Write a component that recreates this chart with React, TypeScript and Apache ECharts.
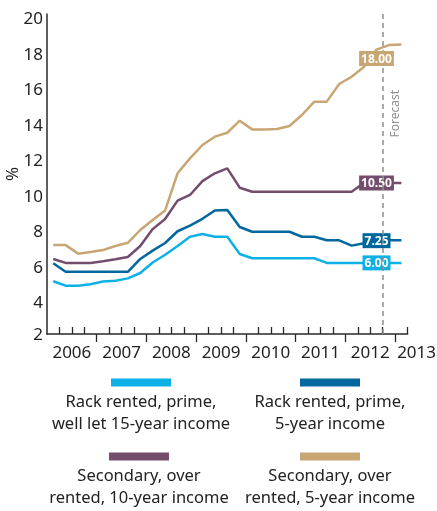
import React, { useEffect, useRef } from "react";
import * as echarts from "echarts";

const quarters = [
  "2006 Q1", "2006 Q2", "2006 Q3", "2006 Q4",
  "2007 Q1", "2007 Q2", "2007 Q3", "2007 Q4",
  "2008 Q1", "2008 Q2", "2008 Q3", "2008 Q4",
  "2009 Q1", "2009 Q2", "2009 Q3", "2009 Q4",
  "2010 Q1", "2010 Q2", "2010 Q3", "2010 Q4",
  "2011 Q1", "2011 Q2", "2011 Q3", "2011 Q4",
  "2012 Q1", "2012 Q2", "2012 Q3", "2012 Q4",
  "2013 Q1",
];
const years = ["2006", "2007", "2008", "2009", "2010", "2011", "2012", "2013"];

const primeWellLet = [4.97, 4.72, 4.72, 4.8, 4.95, 5.0, 5.13, 5.43, 6.02, 6.46, 6.95, 7.47, 7.62, 7.47, 7.47, 6.5, 6.26, 6.26, 6.26, 6.26, 6.26, 6.26, 6.0, 6.0, 6.0, 6.0, 6.0, 6.0, 6.0];
const prime5yr = [5.98, 5.5, 5.5, 5.5, 5.5, 5.5, 5.5, 6.22, 6.69, 7.12, 7.78, 8.1, 8.48, 8.95, 8.97, 8.02, 7.75, 7.75, 7.75, 7.75, 7.47, 7.47, 7.27, 7.27, 6.97, 7.1, 7.25, 7.27, 7.27];
const secondary10yr = [6.22, 6.0, 6.0, 6.0, 6.09, 6.2, 6.33, 6.95, 7.9, 8.47, 9.5, 9.82, 10.6, 11.04, 11.32, 10.23, 10.0, 10.0, 10.0, 10.0, 10.0, 10.0, 10.0, 10.0, 10.0, 10.5, 10.5, 10.5, 10.5];
const secondary5yr = [7.0, 7.0, 6.52, 6.61, 6.72, 6.95, 7.13, 7.85, 8.41, 8.95, 11.04, 11.88, 12.63, 13.1, 13.32, 14.0, 13.51, 13.51, 13.53, 13.7, 14.32, 15.07, 15.07, 16.06, 16.47, 17.03, 18.0, 18.25, 18.29];

const seriesNames = [
  "Rack rented, prime, well let 15-year income",
  "Rack rented, prime, 5-year income",
  "Secondary, over rented, 10-year income",
  "Secondary, over rented, 5-year income",
];
const legendLines = [
  ["Rack rented, prime,", "well let 15-year income"],
  ["Rack rented, prime,", "5-year income"],
  ["Secondary, over", "rented, 10-year income"],
  ["Secondary, over", "rented, 5-year income"],
];
const endLabels = ["6.00", "7.25", "10.50", "18.00"];
const labelQuarter = "2012 Q3";
const forecastQuarter = "2012 Q4";

const colors = ["#0db1e8", "#00689f", "#744c6c", "#c8a674"];
const FONT = "Noto Sans";

export default function App() {
  const ref = useRef<HTMLDivElement>(null);
  useEffect(() => {
    if (!ref.current) return;
    const chart = echarts.init(ref.current, null, { renderer: "svg" });
    const allData = [primeWellLet, prime5yr, secondary10yr, secondary5yr];
    const labelIdx = quarters.indexOf(labelQuarter);
    const forecastIdx = quarters.indexOf(forecastQuarter);
    const n = quarters.length;
    const minorTicks: number[] = [];
    const majorTicks: number[] = [];
    for (let i = 1; i <= n; i++) {
      if (i % 4 === 0 && i < n) majorTicks.push(i);
      else minorTicks.push(i);
    }
    const yearLabelPos = years.map((_, k) => Math.min(4 * k + 2, n));
    const labelOffsets = [[0, 0], [0, 0], [0, 0], [0, 9]];

    const series: any[] = allData.map((d, si) => ({
      type: "line",
      name: seriesNames[si],
      xAxisIndex: 0,
      yAxisIndex: 0,
      symbol: "circle",
      symbolSize: 0,
      showSymbol: true,
      silent: true,
      z: 2 + si,
      lineStyle: { color: colors[si], width: 2.5 },
      itemStyle: { color: colors[si] },
      emphasis: { disabled: true },
      data: d.map((v, i) => {
        const item: any = { value: [i + 0.5, v] };
        if (i === labelIdx) {
          item.label = {
            show: true,
            position: "inside",
            offset: labelOffsets[si],
            formatter: endLabels[si],
            backgroundColor: colors[si],
            color: "#fff",
            fontFamily: FONT,
            fontWeight: "bold",
            fontSize: 12,
            lineHeight: 13,
            padding: [1, 2, 1, 2],
          };
        }
        return item;
      }),
    }));
    series[0].markLine = {
      silent: true,
      symbol: ["none", "none"],
      lineStyle: { type: [5, 4], color: "#8f8f8f", width: 1.5 },
      label: {
        show: true,
        formatter: "Forecast",
        position: "insideEndBottom",
        distance: [76, 6],
        color: "#8f8f8f",
        fontFamily: FONT,
        fontSize: 12,
      },
      data: [{ xAxis: forecastIdx }],
    };

    const legendLeft = [36, 225, 34, 225];
    const legendTop = [374, 374, 448, 448];

    chart.setOption({
      animation: false,
      grid: { left: 47, right: 29.4, top: 14, bottom: 177, containLabel: false, outerBoundsMode: "none" },
      xAxis: [
        {
          type: "value",
          min: 0,
          max: n,
          position: "bottom",
          axisLine: { show: true, lineStyle: { color: "#2a2a2a", width: 1.5 } },
          axisTick: { show: true, inside: true, length: 7, customValues: minorTicks, lineStyle: { color: "#2a2a2a", width: 1.3 } },
          axisLabel: { show: false },
          splitLine: { show: false },
        },
        {
          type: "value",
          min: 0,
          max: n,
          position: "bottom",
          axisLine: { show: false },
          axisTick: { show: true, inside: false, length: 8, customValues: majorTicks, lineStyle: { color: "#2a2a2a", width: 1.3 } },
          axisLabel: {
            show: true,
            customValues: yearLabelPos,
            margin: 9,
            color: "#222",
            fontFamily: FONT,
            fontSize: 17,
            formatter: (v: number) => {
              const k = yearLabelPos.indexOf(v);
              const y = years[k] ?? "";
              return k === years.length - 1 ? `{e|${y}}` : y;
            },
            rich: { e: { padding: [0, 0, 0, 18], color: "#222", fontFamily: FONT, fontSize: 17 } },
          },
          splitLine: { show: false },
        },
      ],
      yAxis: {
        type: "value",
        min: 2,
        max: 20,
        interval: 2,
        name: "%",
        nameLocation: "middle",
        nameGap: 28,
        nameMoveOverlap: false,
        nameTextStyle: { color: "#222", fontFamily: FONT, fontSize: 17, lineHeight: 16 },
        axisLine: { show: true, lineStyle: { color: "#2a2a2a", width: 1.5 } },
        axisTick: { show: false },
        splitLine: { show: false },
        axisLabel: {
          color: "#222",
          fontFamily: FONT,
          fontSize: 17,
          margin: 4,
          formatter: (v: number) => (v === 2 ? `{b|${v}}` : `{a|${v}}`),
          rich: {
            a: { padding: [7, 0, 0, 0], color: "#222", fontFamily: FONT, fontSize: 17 },
            b: { padding: [0, 0, 1, 0], color: "#222", fontFamily: FONT, fontSize: 17 },
          },
        },
      },
      legend: seriesNames.map((name, i) => ({
        data: [name],
        left: legendLeft[i],
        top: legendTop[i],
        padding: 0,
        itemWidth: 0,
        itemHeight: 0,
        itemGap: 0,
        selectedMode: false,
        icon: "rect",
        formatter: () => `{bar${i}|}\n{t|${legendLines[i][0]}}\n{t|${legendLines[i][1]}}`,
        textStyle: {
          color: "#222",
          fontFamily: FONT,
          fontSize: 16.5,
          rich: {
            [`bar${i}`]: { width: 60, height: 8, lineHeight: 14, backgroundColor: colors[i], align: "center" },
            t: { width: 200, align: "center", fontSize: 16.5, lineHeight: 22, color: "#222", fontFamily: FONT },
          },
        },
      })),
      series,
    });
    return () => chart.dispose();
  }, []);
  return <div ref={ref} style={{ position: "fixed", left: 0, top: 0, width: 437, height: 511 }} />;
}
